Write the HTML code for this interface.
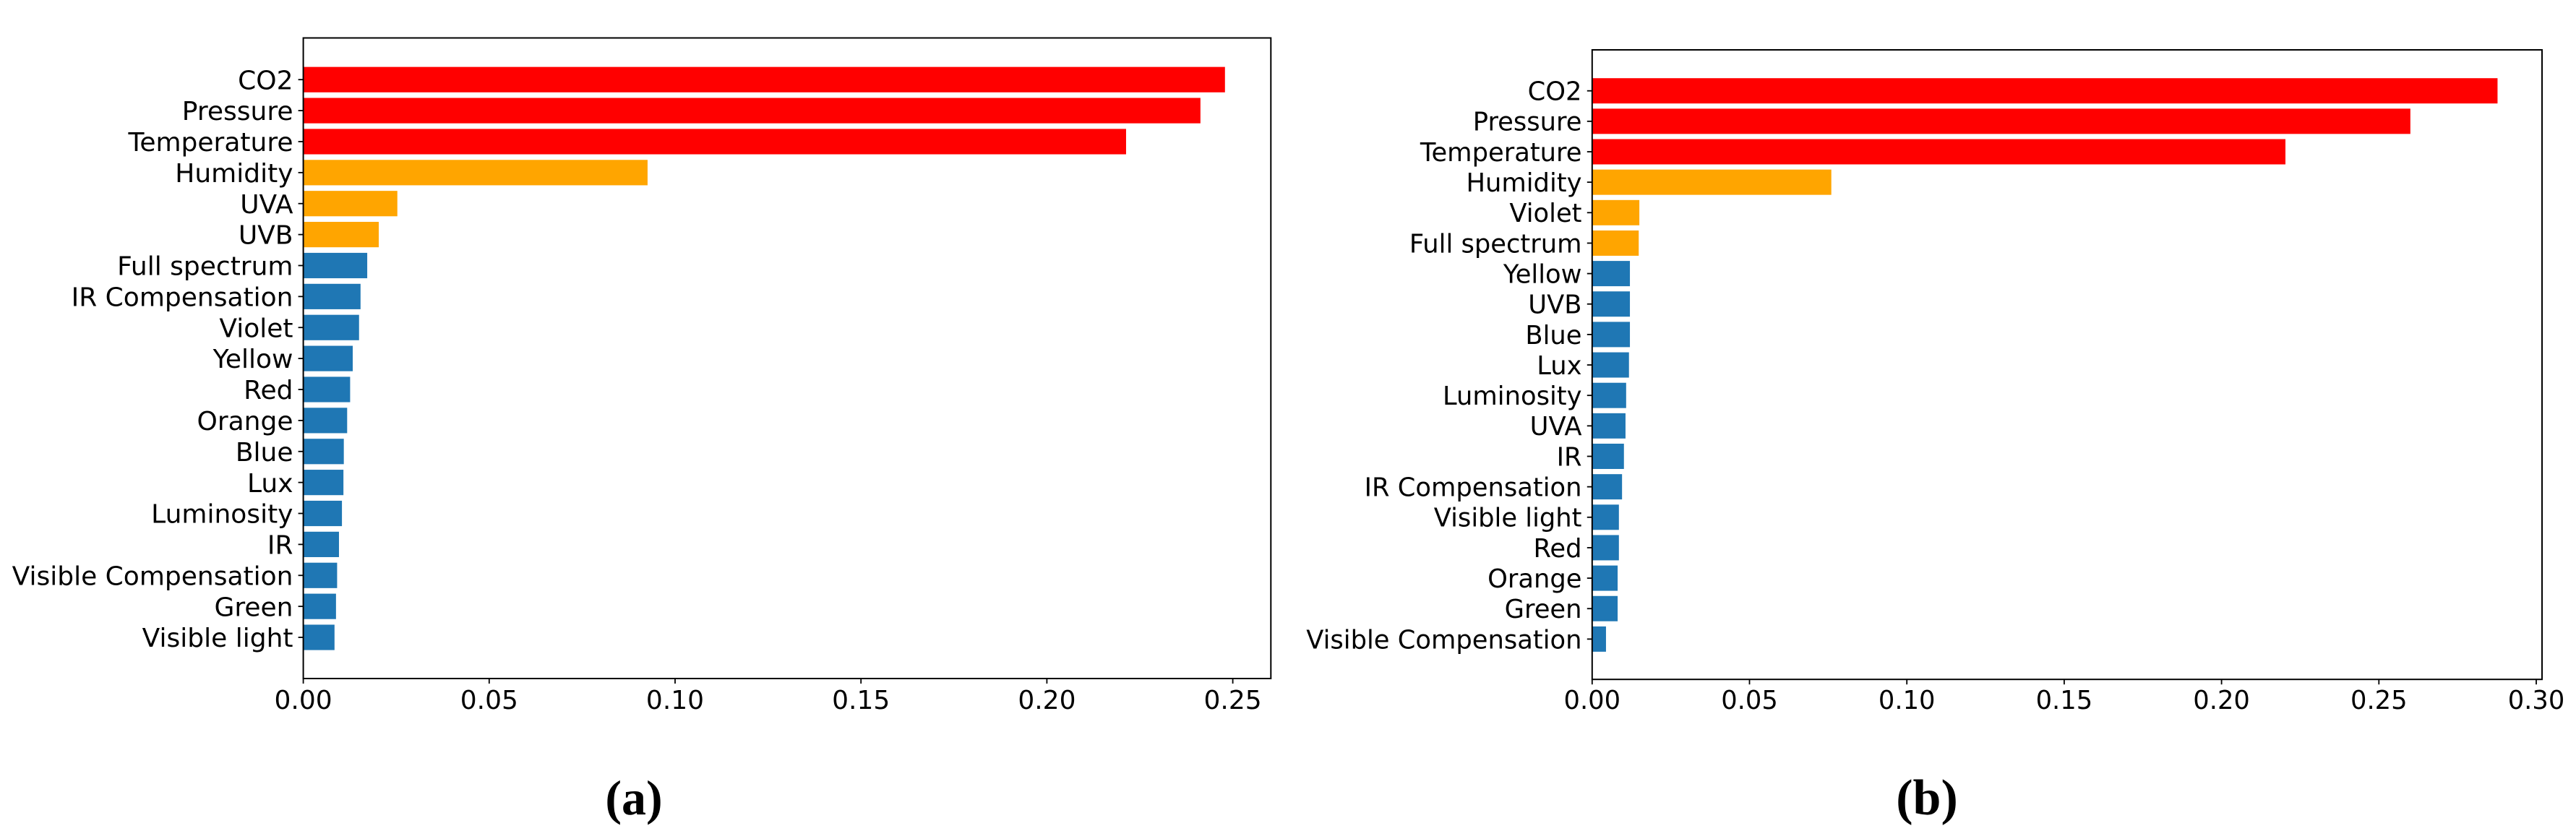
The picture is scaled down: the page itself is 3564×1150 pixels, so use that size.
<!DOCTYPE html>
<html lang="en">
<head>
<meta charset="utf-8">
<title>Feature importance charts</title>
<style>
  html, body { margin: 0; padding: 0; background: #fff; }
  body { width: 3564px; height: 1150px; overflow: hidden; }
  svg { display: block; }
  .tick-label { font-family: "DejaVu Sans", "Liberation Sans", sans-serif; fill: #000; }
  .caption { font-family: "Liberation Serif", serif; font-weight: bold; fill: #000; }
</style>
</head>
<body>
<svg id="figure" xmlns="http://www.w3.org/2000/svg" width="3564" height="1150" viewBox="0 0 3564 1150"></svg>
<script>
// Panel (a) data
const categoriesA = ["CO2","Pressure","Temperature","Humidity","UVA","UVB","Full spectrum","IR Compensation","Violet","Yellow","Red","Orange","Blue","Lux","Luminosity","IR","Visible Compensation","Green","Visible light"];
const valuesA = [0.2479,0.2413,0.2213,0.0926,0.0253,0.0203,0.0172,0.0154,0.0150,0.0133,0.0126,0.0118,0.0109,0.0108,0.0104,0.0096,0.0091,0.0088,0.0084];
const tiersA = ["high","high","high","mid","mid","mid","low","low","low","low","low","low","low","low","low","low","low","low","low"];
const xTicksA = [0,0.05,0.10,0.15,0.20,0.25];
const xTickLabelsA = ["0.00","0.05","0.10","0.15","0.20","0.25"];

// Panel (b) data
const categoriesB = ["CO2","Pressure","Temperature","Humidity","Violet","Full spectrum","Yellow","UVB","Blue","Lux","Luminosity","UVA","IR","IR Compensation","Visible light","Red","Orange","Green","Visible Compensation"];
const valuesB = [0.2877,0.2600,0.2203,0.0760,0.0150,0.0148,0.0120,0.0120,0.0120,0.0117,0.0108,0.0106,0.0101,0.0095,0.0085,0.0085,0.0081,0.0081,0.0044];
const tiersB = ["high","high","high","mid","mid","mid","low","low","low","low","low","low","low","low","low","low","low","low","low"];
const xTicksB = [0,0.05,0.10,0.15,0.20,0.25,0.30];
const xTickLabelsB = ["0.00","0.05","0.10","0.15","0.20","0.25","0.30"];

const tierColors = { high: "#ff0000", mid: "#ffa500", low: "#1f77b4" };
const SVG_NS = "http://www.w3.org/2000/svg";
const figure = document.getElementById("figure");

function makeEl(parent, tag, attrs) {
  const el = document.createElementNS(SVG_NS, tag);
  for (const key in attrs) el.setAttribute(key, attrs[key]);
  parent.appendChild(el);
  return el;
}

function drawPanel(id, categories, values, tiers, xTicks, xTickLabels, frame) {
  // Axis functions
  const xScale = v => frame.left + v * frame.pxPerUnit;
  const yScale = i => frame.firstTickY + i * frame.pitch;

  const panel = makeEl(figure, "g", {});
  
  

  // Bars
  categories.forEach((cat, i) => {
    const slug = cat.toLowerCase().replace(/\s+/g, "-");
    const barH = frame.pitch * frame.barRatio;
    const bar = makeEl(panel, "rect", {
      x: xScale(0),
      y: yScale(i) - barH / 2,
      width: xScale(values[i]) - xScale(0),
      height: barH,
      fill: tierColors[tiers[i]]
    });
    
    

    const tick = makeEl(panel, "line", {
      x1: xScale(0) - frame.tickLen, x2: xScale(0),
      y1: yScale(i), y2: yScale(i),
      stroke: "#000", "stroke-width": 1.8
    });
    
    

    const label = makeEl(panel, "text", {
      class: "tick-label",
      x: frame.labelRight,
      y: yScale(i) + frame.fontSize * 0.3645,
      "text-anchor": "end",
      "font-size": frame.fontSize
    });
    label.textContent = cat;
    
    
  });

  // X ticks
  xTicks.forEach((v, i) => {
    const tick = makeEl(panel, "line", {
      x1: xScale(v), x2: xScale(v),
      y1: frame.bottom, y2: frame.bottom + frame.tickLen,
      stroke: "#000", "stroke-width": 1.8
    });
    
    

    const label = makeEl(panel, "text", {
      class: "tick-label",
      x: xScale(v),
      y: frame.xLabelBaseline,
      "text-anchor": "middle",
      "font-size": frame.fontSize
    });
    label.textContent = xTickLabels[i];
    
    
  });

  // Plot frame
  const spines = makeEl(panel, "rect", {
    x: frame.left, y: frame.top,
    width: frame.right - frame.left,
    height: frame.bottom - frame.top,
    fill: "none", stroke: "#000", "stroke-width": 2
  });
  
  

  // Caption
  const caption = makeEl(panel, "text", {
    class: "caption",
    x: frame.captionX, y: frame.captionY,
    "text-anchor": "middle",
    "font-size": frame.captionSize
  });
  caption.textContent = "(" + id + ")";
  
  
}

drawPanel("a", categoriesA, valuesA, tiersA, xTicksA, xTickLabelsA, {
  left: 419.6, right: 1758.3, top: 52.5, bottom: 939,
  pxPerUnit: 5144, firstTickY: 110.2, pitch: 42.88, barRatio: 0.82,
  tickLen: 7, labelRight: 405.5, fontSize: 36, xLabelBaseline: 981,
  captionX: 877, captionY: 1127, captionSize: 68
});

drawPanel("b", categoriesB, valuesB, tiersB, xTicksB, xTickLabelsB, {
  left: 2202.8, right: 3517, top: 69, bottom: 940.2,
  pxPerUnit: 4354, firstTickY: 125.7, pitch: 42.15, barRatio: 0.83,
  tickLen: 7, labelRight: 2188.5, fontSize: 35.3, xLabelBaseline: 981,
  captionX: 2666, captionY: 1127, captionSize: 70
});
</script>
</body>
</html>
